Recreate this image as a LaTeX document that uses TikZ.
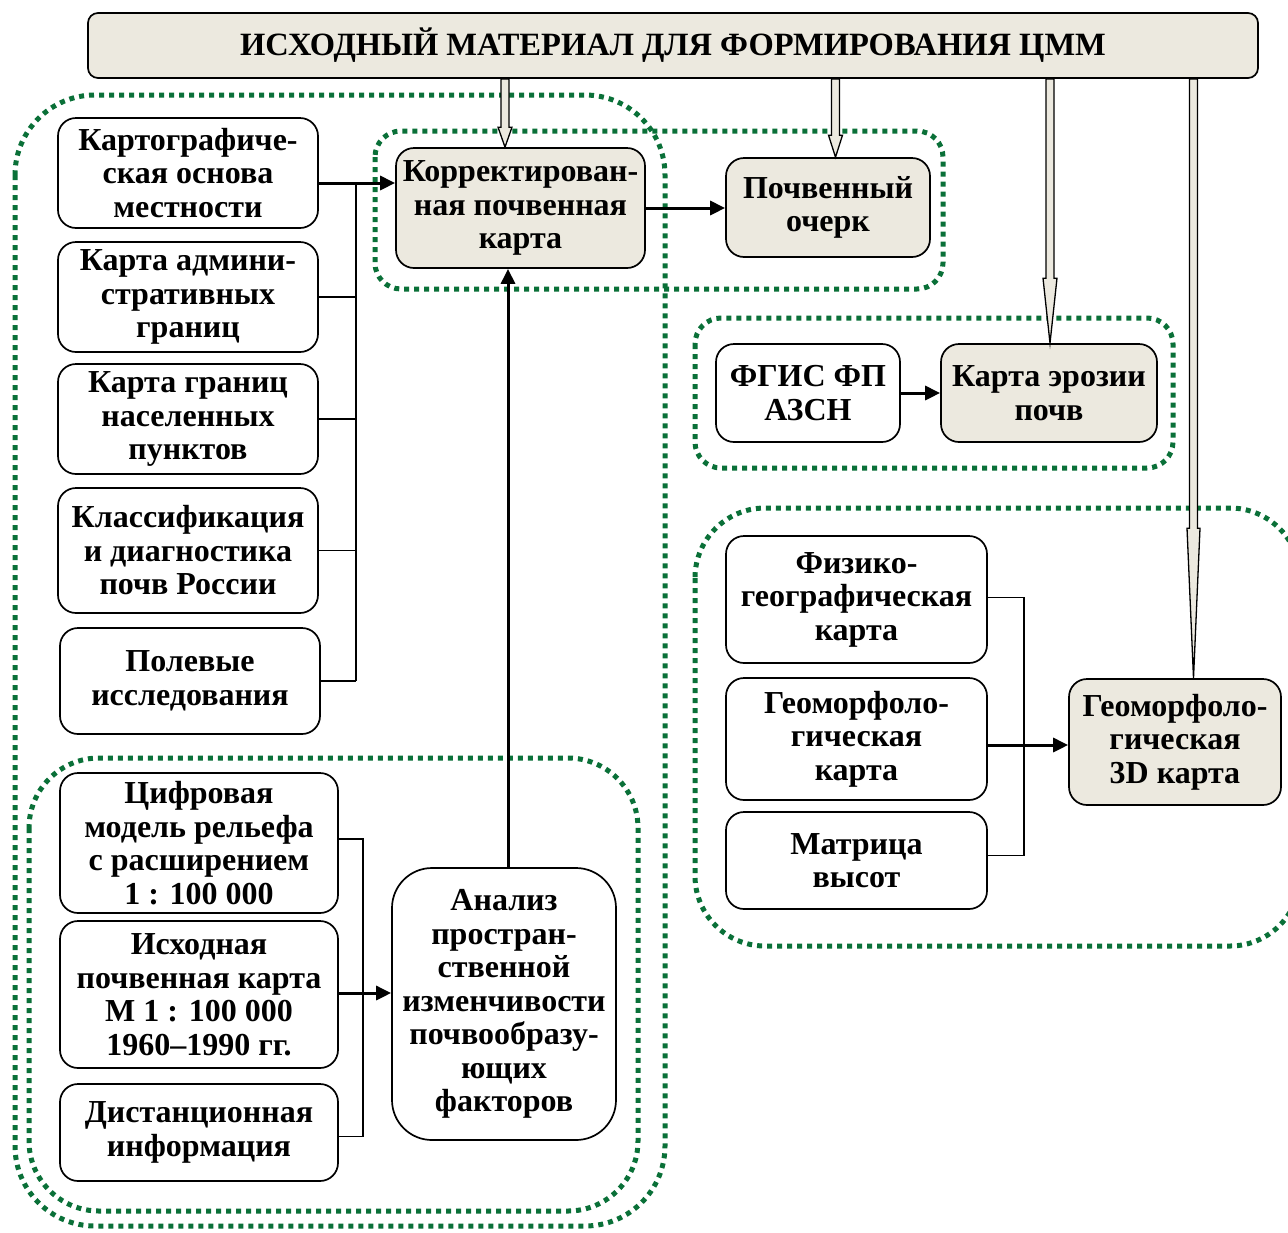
\documentclass[tikz,border=0pt]{standalone}
\usepackage{fontspec}
\setmainfont{Liberation Serif}
\usetikzlibrary{arrows.meta,calc}
\definecolor{beige}{RGB}{236,233,223}
\definecolor{dgreen}{RGB}{10,112,56}
\tikzset{
  box/.style={draw, line width=1.7pt, rounded corners=18pt, fill=white, align=center,
    inner sep=0pt, font=\bfseries\fontsize{32}{33.5}\selectfont},
  bbox/.style={box, fill=beige},
  frame/.style={draw=dgreen, line width=5pt, dash pattern=on 5pt off 5pt},
  thin/.style={line width=1.7pt},
  arr/.style={line width=3pt, -{Triangle[length=15pt,width=14pt]}},
  harrowstyle/.style={fill=beige, draw=black, line width=1.3pt, line join=miter}
}
\newcommand\hollowarrow[5]{%
  \filldraw[harrowstyle] let \p1=(#1 |- #2), \p2=(#1 |- #3) in
   (\x1-4pt,\y1) -- (\x1-4pt,\y2+#4) -- (\x1-#5,\y2+#4) -- (\x2,\y2)
   -- (\x1+#5,\y2+#4) -- (\x1+4pt,\y2+#4) -- (\x1+4pt,\y1) -- cycle;}
\begin{document}
\begin{tikzpicture}[x=1pt,y=-1pt]
\useasboundingbox (0,0) rectangle (1288,1232);
\fill[white] (0,0) rectangle (1288,1232);

% dotted frames
\begin{scope}
\clip (0,0) rectangle (1288,1232);
\draw[frame, rounded corners=80pt] (15,95) rectangle (665,1226);
\draw[frame, rounded corners=26pt] (375,131) rectangle (943,289);
\draw[frame, rounded corners=26pt] (695,318) rectangle (1173,468);
\draw[frame, rounded corners=70pt] (695,508) rectangle (1300,946);
\draw[frame, rounded corners=70pt] (29,758) rectangle (638,1211);
\end{scope}

% title
\node[draw, line width=1.7pt, rounded corners=10pt, fill=beige, minimum width=1170pt, minimum height=65pt,
  font=\bfseries\fontsize{32.5}{34}\selectfont, inner sep=0pt] (title) at (673,45.5)
  {ИСХОДНЫЙ МАТЕРИАЛ ДЛЯ ФОРМИРОВАНИЯ ЦММ};

% left column
\node[box, minimum width=260pt, minimum height=110pt] (n1) at (188,173) {Картографиче-\\ская основа\\местности};
\node[box, minimum width=260pt, minimum height=110pt] (n2) at (188,297) {Карта админи-\\стративных\\границ};
\node[box, minimum width=260pt, minimum height=110pt] (n3) at (188,419) {Карта границ\\населенных\\пунктов};
\node[box, minimum width=260pt, minimum height=125pt] (n4) at (188,550.5) {Классификация\\и диагностика\\почв России};
\node[box, minimum width=260pt, minimum height=106pt] (n5) at (190,681) {Полевые\\исследования};

\node[bbox, minimum width=249pt, minimum height=120pt] (korr) at (520.5,208) {Корректирован-\\ная почвенная\\карта};
\node[bbox, minimum width=204pt, minimum height=99pt] (ocherk) at (828,207.5) {Почвенный\\очерк};

\node[box, minimum width=184pt, minimum height=98pt] (fgis) at (808,393) {ФГИС ФП\\АЗСН};
\node[bbox, minimum width=216pt, minimum height=98pt] (eroz) at (1049,393) {Карта эрозии\\почв};

\node[box, minimum width=261pt, minimum height=127pt] (fiz) at (856.5,599.5) {Физико-\\географическая\\карта};
\node[box, minimum width=261pt, minimum height=122pt] (geo) at (856.5,739) {Геоморфоло-\\гическая\\карта};
\node[box, minimum width=261pt, minimum height=97pt] (matr) at (856.5,860.5) {Матрица\\высот};
\node[bbox, minimum width=212pt, minimum height=126pt] (geo3d) at (1175,742) {Геоморфоло-\\гическая\\3D карта};

\node[box, minimum width=278pt, minimum height=140pt] (cifr) at (199,843) {Цифровая\\модель рельефа\\с расширением\\1 : 100 000};
\node[box, minimum width=278pt, minimum height=147pt] (isx) at (199,994.5) {Исходная\\почвенная карта\\М 1 : 100 000\\1960–1990 гг.};
\node[box, minimum width=278pt, minimum height=97pt] (dist) at (199,1132.5) {Дистанционная\\информация};
\node[box, rounded corners=40pt, minimum width=224pt, minimum height=272pt] (anal) at (504,1004) {Анализ\\простран-\\ственной\\изменчивости\\почвообразу-\\ющих\\факторов};

% connection points
\coordinate (n1e) at ([yshift=-10pt]n1.east);
\coordinate (fize) at ([yshift=2pt]fiz.east);
\coordinate (matre) at ([yshift=5pt]matr.east);
\coordinate (geoe) at ([yshift=-6pt]geo.east);
\coordinate (cifre) at ([yshift=4pt]cifr.east);
\coordinate (diste) at ([yshift=-4pt]dist.east);
\coordinate (isxe) at ([yshift=1.5pt]isx.east);

% left bus
\coordinate (busL) at (356,0);
\draw[arr] (n1e) -- (n1e -| korr.west);
\draw[thin] (busL |- n1e) -- (busL |- n5.east);
\draw[thin] (n2.east) -- (busL |- n2.east);
\draw[thin] (n3.east) -- (busL |- n3.east);
\draw[thin] (n4.east) -- (busL |- n4.east);
\draw[thin] (n5.east) -- (busL |- n5.east);

\draw[arr] (korr.east) -- (korr.east -| ocherk.west);
\draw[arr] (fgis.east) -- (fgis.east -| eroz.west);

% right bus
\coordinate (busR) at (1024,0);
\draw[thin] (fize) -| (busR |- matre) -- (matre);
\draw[arr] (geoe) -- (geoe -| geo3d.west);

% bottom bus
\coordinate (busB) at (363,0);
\draw[thin] (cifre) -| (busB |- diste) -- (diste);
\draw[arr] (isxe) -- (isxe -| anal.west);

% analysis to corrected map
\coordinate (vx) at (508,0);
\draw[arr] (vx |- anal.north) -- (vx |- korr.south);

% hollow arrows from title
\coordinate (h1) at (505,0);
\coordinate (h2) at (835.5,0);
\coordinate (h3) at (1050,0);
\coordinate (h4) at (1193.5,0);
\hollowarrow{h1}{title.south}{korr.north}{20pt}{7pt}
\hollowarrow{h2}{title.south}{ocherk.north}{22pt}{7pt}
\hollowarrow{h3}{title.south}{eroz.north}{65pt}{7pt}
\hollowarrow{h4}{title.south}{geo3d.north}{150pt}{6.5pt}
\end{tikzpicture}
\end{document}
